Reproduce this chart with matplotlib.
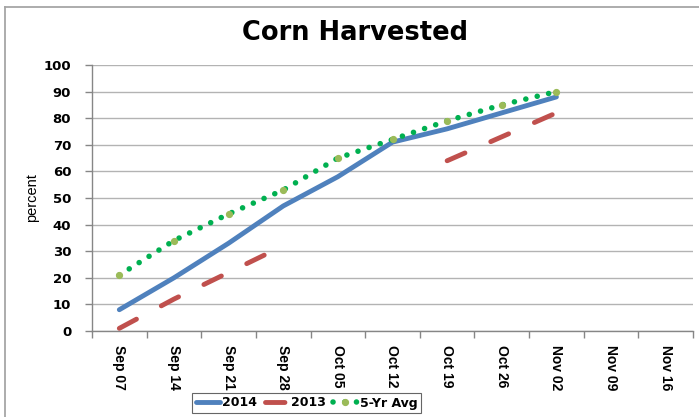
import numpy as np
import matplotlib
matplotlib.use("Agg")
import matplotlib.pyplot as plt
from matplotlib.lines import Line2D

categories = ["Sep 07", "Sep 14", "Sep 21", "Sep 28", "Oct 05", "Oct 12",
              "Oct 19", "Oct 26", "Nov 02", "Nov 09", "Nov 16"]
nan = np.nan
y2014 = [8, 20, 33, 47, 58, 71, 76, 82, 88, nan, nan]
y2013 = [1, 12, 22, 32, nan, nan, 64, 73, 82, nan, nan]
avg5 = [21, 34, 44, 53, 65, 72, 79, 85, 90, nan, nan]
yticks = [0, 10, 20, 30, 40, 50, 60, 70, 80, 90, 100]

W, H = 699, 417
fig = plt.figure(figsize=(W / 100, H / 100), dpi=100)
fig.patch.set_facecolor("white")

# chart border (only top and left edges are visible in the crop)
fig.add_artist(Line2D([5 / W, 1.0], [1 - 7 / H, 1 - 7 / H],
                      transform=fig.transFigure, color="#a6a6a6", lw=1.3))
fig.add_artist(Line2D([5 / W, 5 / W], [0, 1 - 7 / H],
                      transform=fig.transFigure, color="#a6a6a6", lw=1.3))

ax = fig.add_axes([92 / W, 1 - 331 / H, (693 - 92) / W, (331 - 65) / H])
x = np.arange(len(categories))

ax.plot(x, y2014, color="#4F81BD", lw=3.5, solid_capstyle="round",
        solid_joinstyle="round", label="2014", zorder=3)
ax.plot(x, y2013, color="#C0504D", lw=3.5, linestyle=(0, (4.0, 5.8)),
        dash_capstyle="round", label="2013", zorder=3)
ax.plot(x, avg5, color="#00B050", lw=4.0, linestyle=(0, (0.01, 2.1)),
        dash_capstyle="round", marker="o", markersize=4.2,
        markerfacecolor="#9BBB59", markeredgecolor="#9BBB59",
        label="5-Yr Avg", zorder=4)

ax.set_xlim(-0.5, len(categories) - 0.5)
ax.set_ylim(0, 100)
ax.set_yticks(yticks)
ax.set_yticklabels([str(v) for v in yticks], fontfamily="DejaVu Sans",
                   fontweight="bold", fontsize=9.5)
ax.set_xticks(x)
ax.set_xticklabels(categories, rotation=270, fontfamily="Liberation Sans",
                   fontweight="bold", fontsize=10, va="top", ha="center")
ax.set_xticks(np.arange(-0.5, len(categories)), minor=True)
ax.tick_params(axis="x", which="major", length=0, pad=10)
ax.tick_params(axis="x", which="minor", length=5, color="#868686", width=1)
ax.tick_params(axis="y", length=5, color="#868686", width=1, pad=10)

ax.grid(axis="y", color="#b3b3b3", lw=1)
ax.set_axisbelow(True)
for s in ["top", "right"]:
    ax.spines[s].set_visible(False)
for s in ["left", "bottom"]:
    ax.spines[s].set_color("#868686")
    ax.spines[s].set_linewidth(1)

fig.text(354.5 / W, 1 - 33 / H, "Corn Harvested", ha="center", va="center",
         fontfamily="DejaVu Sans", fontweight="bold", fontsize=18.5)
fig.text(32 / W, 1 - 198 / H, "percent", rotation=90, ha="center",
         va="center", fontfamily="Liberation Sans", fontsize=10.5)

leg = fig.legend(loc="center", bbox_to_anchor=(306.5 / W, 1 - 403 / H),
                 ncol=3, frameon=True, fancybox=False, handlelength=1.9,
                 handletextpad=0.2, columnspacing=0.6, borderpad=0.3,
                 numpoints=1,
                 prop={"family": "DejaVu Sans", "weight": "bold", "size": 9})
leg.get_frame().set_edgecolor("#404040")
leg.get_frame().set_linewidth(0.8)

fig.savefig("out.png", dpi=100, facecolor="white")
